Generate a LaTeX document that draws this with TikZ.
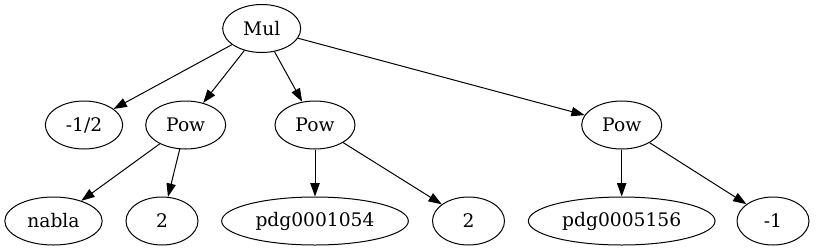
\documentclass[tikz,border=0pt]{standalone}
\usepackage{fontspec}
\setmainfont{DejaVu Serif}
\usetikzlibrary{arrows.meta,shapes.geometric}
\begin{document}
\begin{tikzpicture}[x=0.75pt,y=-0.75pt,
  every node/.style={font=\fontsize{14}{16}\selectfont},
  gv/.style={draw,ellipse,line width=0.75pt,inner sep=0pt,minimum height=36pt},
  edge/.style={line width=0.75pt,-{Triangle[length=10pt,width=7pt]}}]
\useasboundingbox (0,0) rectangle (817,251);
\node[gv,minimum width=58.5pt] (mul) at (261.7,28.5) {Mul};
\node[gv,minimum width=58pt] (half) at (84,125) {-1/2};
\node[gv,minimum width=60pt] (pow1) at (185.7,125) {Pow};
\node[gv,minimum width=60pt] (pow2) at (315,125) {Pow};
\node[gv,minimum width=60pt] (pow3) at (621.7,125) {Pow};
\node[gv,minimum width=73pt] (nabla) at (53.5,221) {nabla};
\node[gv,minimum width=54pt] (two1) at (162,221) {2};
\node[gv,minimum width=140pt] (pdgA) at (315,221) {pdg0001054};
\node[gv,minimum width=54pt] (two2) at (468.5,221) {2};
\node[gv,minimum width=140pt] (pdgB) at (621.7,221) {pdg0005156};
\node[gv,minimum width=54pt] (mone) at (773,221) {-1};
\draw[edge] (mul) -- (half);
\draw[edge] (mul) -- (pow1);
\draw[edge] (mul) -- (pow2);
\draw[edge] (mul) -- (pow3);
\draw[edge] (pow1) -- (nabla);
\draw[edge] (pow1) -- (two1);
\draw[edge] (pow2) -- (pdgA);
\draw[edge] (pow2) -- (two2);
\draw[edge] (pow3) -- (pdgB);
\draw[edge] (pow3) -- (mone);
\end{tikzpicture}
\end{document}
